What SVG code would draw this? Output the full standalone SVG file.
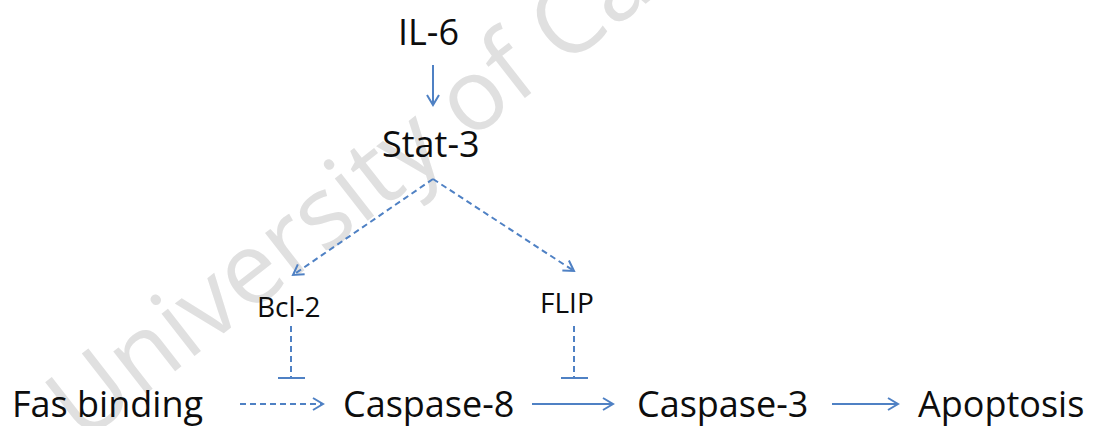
<svg xmlns="http://www.w3.org/2000/svg" width="1097" height="426" viewBox="0 0 1097 426">
<style>
.lbl{font-family:"Open Sans","Liberation Sans",sans-serif;fill:#0d0d0d;font-size:36px}
.sm{font-size:28px}
.wm{font-family:"Open Sans","Liberation Sans",sans-serif;fill:#e0e0e0;font-size:100px}
.c{fill:none;stroke:#4f81c4;stroke-width:2}
.d{stroke-dasharray:6 4}
</style>
<defs>
<marker id="ah" markerUnits="userSpaceOnUse" markerWidth="14" markerHeight="16" refX="11" refY="7" orient="auto" viewBox="0 0 14 14">
<path d="M1,1 L11,7 L1,13" fill="none" stroke="#4f81c4" stroke-width="2"/>
</marker>
</defs>
<rect width="1097" height="426" fill="#fff"/>
<text class="wm" transform="translate(82,444) rotate(-38)">University of Ca</text>
<g id="connectors">
<line class="c" x1="433" y1="65" x2="433" y2="105" marker-end="url(#ah)"/>
<path class="c d" d="M433,179 L293,275" marker-end="url(#ah)"/>
<path class="c d" d="M433,179 L574,271" marker-end="url(#ah)"/>
<line class="c d" x1="291" y1="326" x2="291" y2="378"/>
<line class="c" x1="278" y1="378" x2="305" y2="378"/>
<line class="c d" x1="574" y1="326" x2="574" y2="378"/>
<line class="c" x1="561" y1="378" x2="588" y2="378"/>
<line class="c d" x1="240" y1="404" x2="323" y2="404" marker-end="url(#ah)"/>
<line class="c" x1="532" y1="404" x2="613" y2="404" marker-end="url(#ah)"/>
<line class="c" x1="832" y1="404" x2="898" y2="404" marker-end="url(#ah)"/>
</g>
<g id="il6"><text class="lbl" x="398" y="45">IL-6</text></g>
<g id="stat3"><text class="lbl" x="382" y="157">Stat-3</text></g>
<g id="bcl2"><text class="lbl sm" x="257" y="317">Bcl-2</text></g>
<g id="flip"><text class="lbl sm" x="540" y="313">FLIP</text></g>
<g id="fas"><text class="lbl" x="12" y="417">Fas binding</text></g>
<g id="casp8"><text class="lbl" x="343" y="417">Caspase-8</text></g>
<g id="casp3"><text class="lbl" x="637" y="417">Caspase-3</text></g>
<g id="apoptosis"><text class="lbl" x="918" y="417">Apoptosis</text></g>
</svg>
